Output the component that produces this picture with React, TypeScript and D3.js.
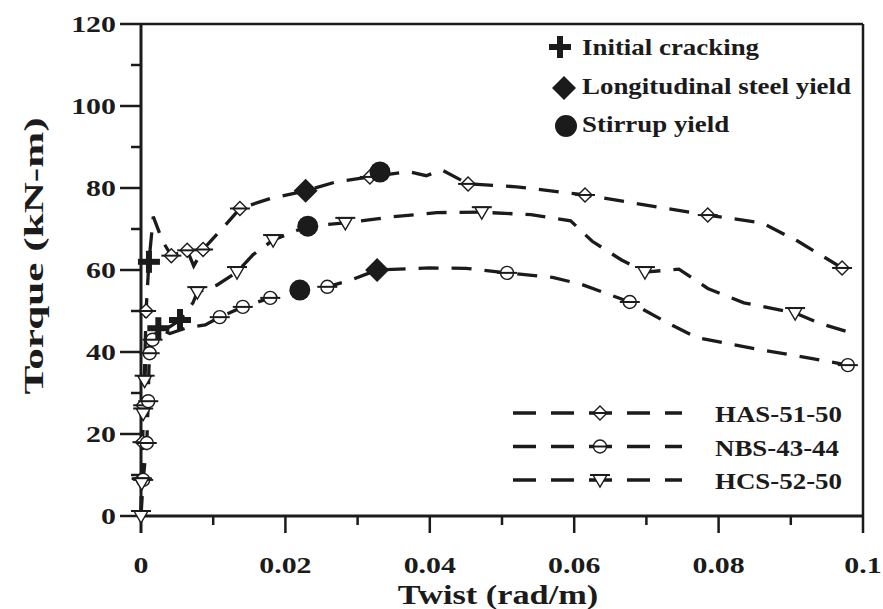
import React from "react";
import * as d3 from "d3";

const W = 883;
const H = 609;

const xTicks = [0, 0.02, 0.04, 0.06, 0.08, 0.1];
const xTickLabels = ["0", "0.02", "0.04", "0.06", "0.08", "0.1"];
const xMinor = [0.01, 0.03, 0.05, 0.07, 0.09];
const yTicks = [0, 20, 40, 60, 80, 100, 120];
const yMinor = [10, 30, 50, 70, 90, 110];

// [twist, torque, open marker drawn (1) or not (0)]
const has51 = [
  [0, 0, 0], [0.0001, 9, 1], [0.0002, 18, 1], [0.0003, 27, 1], [0.0005, 36, 0],
  [0.0007, 50, 1], [0.0011, 62, 0], [0.0017, 73, 0], [0.003, 67, 0], [0.0042, 63.5, 1],
  [0.0064, 64.8, 1], [0.0073, 61, 0], [0.0086, 65, 1], [0.0112, 70, 0], [0.0137, 75, 1],
  [0.018, 77.5, 0], [0.0228, 79.3, 0], [0.027, 81.5, 0], [0.0317, 82.7, 1], [0.037, 84, 0],
  [0.0395, 83, 0], [0.0417, 84.4, 0], [0.0453, 81, 1], [0.052, 80.3, 0], [0.0615, 78.3, 1],
  [0.071, 75.5, 0], [0.0785, 73.4, 1], [0.086, 71.5, 0], [0.091, 67, 0], [0.0971, 60.5, 1],
];
const nbs43 = [
  [0, 0, 0], [0.0003, 8.8, 1], [0.0008, 17.8, 1], [0.001, 28, 1], [0.0011, 36, 0],
  [0.0012, 39.7, 1], [0.0016, 43, 1], [0.0024, 45.8, 0], [0.004, 44.5, 0], [0.0065, 46, 0],
  [0.0089, 46.6, 0], [0.0109, 48.5, 1], [0.0141, 51, 1], [0.0179, 53.2, 1], [0.022, 55.1, 0],
  [0.0258, 55.9, 1], [0.029, 57.5, 0], [0.0327, 60, 0], [0.04, 60.5, 0], [0.045, 60.4, 0],
  [0.0507, 59.3, 1], [0.057, 58.2, 0], [0.061, 56.5, 0], [0.0677, 52.2, 1], [0.0725, 47.5, 0],
  [0.077, 43.5, 0], [0.085, 40.8, 0], [0.092, 38.7, 0], [0.0979, 36.8, 1],
];
const hcs52 = [
  [0, 0, 1], [0.0001, 8, 1], [0.0002, 17, 0], [0.0003, 25, 1], [0.0005, 33, 1],
  [0.0008, 40, 0], [0.0015, 43, 0], [0.003, 45, 0], [0.0054, 47.8, 0], [0.0072, 52, 0],
  [0.0078, 54.6, 1], [0.0105, 56.3, 0], [0.0133, 59.5, 1], [0.0155, 63.7, 0], [0.0183, 67.3, 1],
  [0.0231, 70.7, 0], [0.0283, 71.5, 1], [0.035, 73, 0], [0.041, 74, 0], [0.0472, 74.1, 1],
  [0.054, 73.5, 0], [0.0595, 72, 0], [0.0625, 67, 0], [0.0665, 62.5, 0], [0.0698, 59.5, 1],
  [0.0745, 60.2, 0], [0.0785, 55.5, 0], [0.0835, 52, 0], [0.0906, 49.5, 1], [0.094, 47, 0],
  [0.0985, 44.6, 0],
];

const crackingPts = [[0.0011, 62], [0.0024, 45.8], [0.0054, 47.8]];
const longYieldPts = [[0.0228, 79.3], [0.0327, 60]];
const stirrupYieldPts = [[0.0331, 83.9], [0.0231, 70.7], [0.022, 55.1]];

const seriesNames = ["HAS-51-50", "NBS-43-44", "HCS-52-50"];
const eventNames = ["Initial cracking", "Longitudinal steel yield", "Stirrup yield"];

const INK = "#1b1b1b";
const FONT = "'Liberation Serif', 'Times New Roman', serif";

function OpenMarker({ kind, cx, cy }: { kind: string; cx: number; cy: number }) {
  if (kind === "diamond") {
    return (
      <g transform={`translate(${cx},${cy})`}>
        <path d="M0,-7L7,0L0,7L-7,0Z" fill="white" stroke={INK} strokeWidth={1.4} />
        <line x1={-10} x2={10} y1={0} y2={0} stroke={INK} strokeWidth={2} />
      </g>
    );
  }
  if (kind === "circle") {
    return (
      <g transform={`translate(${cx},${cy})`}>
        <circle r={6.5} fill="white" stroke={INK} strokeWidth={1.4} />
        <line x1={-10} x2={10} y1={0} y2={0} stroke={INK} strokeWidth={2} />
      </g>
    );
  }
  return (
    <g transform={`translate(${cx},${cy})`}>
      <path d="M-7,-5L7,-5L0,7Z" fill="white" stroke={INK} strokeWidth={1.4} />
      <line x1={-10} x2={10} y1={-5} y2={-5} stroke={INK} strokeWidth={2} />
    </g>
  );
}

function Plus({ cx, cy, s = 11 }: { cx: number; cy: number; s?: number }) {
  return (
    <g transform={`translate(${cx},${cy})`} fill={INK}>
      <rect x={-s} y={-3} width={2 * s} height={6} />
      <rect x={-3} y={-s} width={6} height={2 * s} />
    </g>
  );
}

function Diamond({ cx, cy }: { cx: number; cy: number }) {
  return <path transform={`translate(${cx},${cy})`} d="M0,-12L12,0L0,12L-12,0Z" fill={INK} />;
}

export default function App() {
  const x = d3.scaleLinear().domain([0, 0.1]).range([141, 863]);
  const y = d3.scaleLinear().domain([0, 120]).range([516, 24]);
  const line = d3.line<number[]>().x((d) => x(d[0])).y((d) => y(d[1]));

  const series = [
    { name: seriesNames[0], data: has51, kind: "diamond" },
    { name: seriesNames[1], data: nbs43, kind: "circle" },
    { name: seriesNames[2], data: hcs52, kind: "triangle" },
  ];

  const tickText = { fontFamily: FONT, fontWeight: 700, fontSize: 23, fill: INK };

  return (
    <svg width={W} height={H} style={{ position: "absolute", left: 0, top: 0, background: "white" }}>
      {/* axes + frame */}
      <g stroke={INK} fill="none">
        <line x1={x(0)} x2={x(0)} y1={y(120)} y2={533} strokeWidth={3} />
        <line x1={x(0)} x2={x(0.1)} y1={y(0)} y2={y(0)} strokeWidth={3} />
        <line x1={x(0)} x2={x(0.1)} y1={y(120)} y2={y(120)} strokeWidth={2.5} />
        <line x1={x(0.1)} x2={x(0.1)} y1={y(120)} y2={533} strokeWidth={2.5} />
        {xTicks.slice(1, -1).map((t) => (
          <line key={t} x1={x(t)} x2={x(t)} y1={y(0)} y2={533} strokeWidth={2.5} />
        ))}
        {xMinor.map((t) => (
          <line key={t} x1={x(t)} x2={x(t)} y1={y(0)} y2={525} strokeWidth={2.5} />
        ))}
        {yTicks.map((t) => (
          <line key={t} x1={120} x2={x(0)} y1={y(t)} y2={y(t)} strokeWidth={2.5} />
        ))}
        {yMinor.map((t) => (
          <line key={t} x1={131} x2={x(0)} y1={y(t)} y2={y(t)} strokeWidth={2.5} />
        ))}
      </g>

      {xTicks.map((t, i) => (
        <text key={t} transform={`translate(${x(t)},573) scale(1.3,1)`} textAnchor="middle" {...tickText}>
          {xTickLabels[i]}
        </text>
      ))}
      {yTicks.map((t) => (
        <text key={t} transform={`translate(116,${y(t) + 8}) scale(1.3,1)`} textAnchor="end" {...tickText}>
          {t}
        </text>
      ))}

      <text transform="translate(498,604) scale(1.27,1)" textAnchor="middle"
        style={{ fontFamily: FONT, fontWeight: 700, fontSize: 27 }} fill={INK}>
        Twist (rad/m)
      </text>
      <text transform={`translate(43,${(y(0) + y(120)) / 2 - 14}) rotate(-90) scale(1.6,1)`} textAnchor="middle"
        style={{ fontFamily: FONT, fontWeight: 700, fontSize: 27 }} fill={INK}>
        Torque (kN-m)
      </text>

      {/* curves */}
      {series.map((s) => (
        <path key={s.name} d={line(s.data) || ""} fill="none" stroke={INK} strokeWidth={3.3}
          strokeDasharray="20 13" />
      ))}
      {series.map((s) =>
        s.data.filter((d) => d[2] === 1).map((d, i) => (
          <OpenMarker key={s.name + i} kind={s.kind} cx={x(d[0])} cy={y(d[1])} />
        ))
      )}

      {/* events */}
      {crackingPts.map((d, i) => <Plus key={"c" + i} cx={x(d[0])} cy={y(d[1])} />)}
      {longYieldPts.map((d, i) => <Diamond key={"l" + i} cx={x(d[0])} cy={y(d[1])} />)}
      {stirrupYieldPts.map((d, i) => <circle key={"s" + i} cx={x(d[0])} cy={y(d[1])} r={10.5} fill={INK} />)}

      {/* event legend */}
      <Plus cx={560} cy={47} />
      <Diamond cx={564} cy={88} />
      <circle cx={566} cy={126} r={11} fill={INK} />
      {eventNames.map((n, i) => (
        <text key={n} transform={`translate(582,${55 + i * 38.5}) scale(1.17,1)`}
          style={{ fontFamily: FONT, fontWeight: 700, fontSize: 23 }} fill={INK}>
          {n}
        </text>
      ))}

      {/* series legend */}
      {series.map((s, i) => {
        const ly = 413 + i * 33.5;
        return (
          <g key={"lg" + s.name}>
            <line x1={513} x2={682} y1={ly} y2={ly} stroke={INK} strokeWidth={3.3} strokeDasharray="23 15" />
            <OpenMarker kind={s.kind} cx={600} cy={ly} />
            <text transform={`translate(715,${ly + 9}) scale(1.17,1)`}
              style={{ fontFamily: FONT, fontWeight: 700, fontSize: 23 }} fill={INK}>
              {s.name}
            </text>
          </g>
        );
      })}
    </svg>
  );
}
